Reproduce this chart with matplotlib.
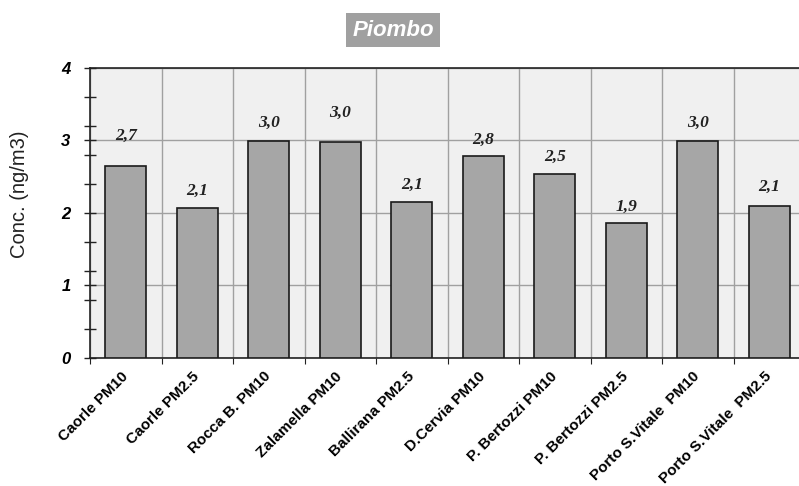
import matplotlib.pyplot as plt
import matplotlib.transforms as mtransforms
import numpy as np

# data
stations = ["Caorle PM10", "Caorle PM2.5", "Rocca B. PM10", "Zalamella PM10",
            "Ballirana PM2.5", "D.Cervia PM10", "P. Bertozzi PM10",
            "P. Bertozzi PM2.5", "Porto S.Vitale  PM10", "Porto S.Vitale  PM2.5"]
conc = [2.64, 2.06, 2.99, 2.98, 2.15, 2.78, 2.54, 1.86, 2.99, 2.09]
value_labels = ["2,7", "2,1", "3,0", "3,0", "2,1", "2,8", "2,5", "1,9", "3,0", "2,1"]

# label offsets above the bars (pixels)
label_offsets = [30, 18, 18, 29, 17, 16, 17, 16, 18, 19]

fig = plt.figure(figsize=(7.99, 4.86), dpi=100)
ax = fig.add_axes([90 / 799, 1 - 358 / 486, 715 / 799, 290.5 / 486])
ax.set_facecolor("#f0f0f0")

x = np.arange(len(stations))
ax.bar(x, conc, width=0.57, color="#a6a6a6", edgecolor="#1a1a1a", linewidth=1.2, zorder=3)

for xi, v, lab, off in zip(x, conc, value_labels, label_offsets):
    ax.annotate(lab, (xi, v), xytext=(0, off * 0.72), textcoords="offset points",
                ha="center", va="center", fontsize=12.5, fontweight="bold",
                fontstyle="italic", family="Liberation Serif", color="#222222")

ax.set_xlim(-0.5, len(stations) - 0.5)
ax.set_ylim(0, 4)

# y axis: integer labels + minor ticks every 0.4
ax.set_yticks([0, 1, 2, 3, 4])
ax.set_yticklabels(["0", "1", "2", "3", "4"], fontsize=12, fontweight="bold",
                   fontstyle="italic", family="Liberation Sans")
ax.set_yticks(np.arange(0.4, 4.0, 0.4), minor=True)
ax.tick_params(axis="y", which="both", direction="inout", length=8, width=1, color="#222222")
ax.tick_params(axis="y", which="major", pad=10)

# x axis: ticks at category boundaries, labels at centres
ax.set_xticks(np.arange(-0.5, len(stations), 1.0))
ax.set_xticklabels([])
ax.tick_params(axis="x", which="major", direction="out", length=4, color="#222222")
ax.set_xticks(x, minor=True)
ax.set_xticklabels(stations, minor=True, rotation=45, ha="right", rotation_mode="anchor",
                   fontsize=11, fontweight="bold", family="Liberation Sans")
ax.tick_params(axis="x", which="minor", length=0, pad=8)
shift = mtransforms.ScaledTranslation(-5 / 100, 0, fig.dpi_scale_trans)
for t in ax.get_xticklabels(minor=True):
    t.set_transform(t.get_transform() + shift)

ax.grid(True, which="major", color="#a0a0a0", linewidth=1, zorder=0)
ax.set_axisbelow(True)

for side in ["left", "bottom", "top", "right"]:
    ax.spines[side].set_color("#222222")
    ax.spines[side].set_linewidth(1.2)

fig.text(20 / 799, 1 - 194 / 486, "Conc. (ng/m3)", rotation=90, ha="center", va="center",
         fontsize=14.5, family="Liberation Sans", color="#222222")

fig.text(393 / 799, 1 - 30 / 486, "Piombo", ha="center", va="center", fontsize=16,
         fontweight="bold", fontstyle="italic", family="Liberation Sans", color="white",
         bbox=dict(boxstyle="square,pad=0.3", facecolor="#a0a0a0", edgecolor="none"))

fig.savefig("out.png", dpi=100)
